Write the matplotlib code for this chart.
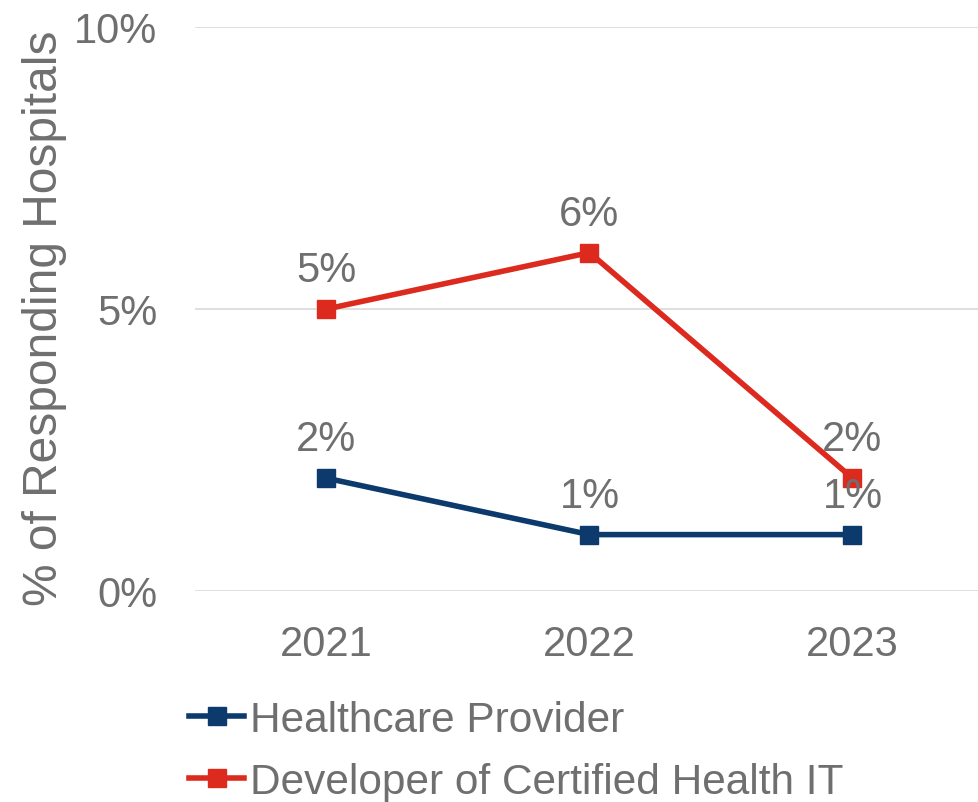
import matplotlib
matplotlib.use("Agg")
import matplotlib.pyplot as plt

years = ["2021", "2022", "2023"]
provider = [2, 1, 1]
developer = [5, 6, 2]
series_names = ["Healthcare Provider", "Developer of Certified Health IT"]
yticks = [0, 5, 10]
ytick_labels = ["0%", "5%", "10%"]

plt.rcParams['font.family'] = ['Liberation Sans', 'DejaVu Sans']
TXT = '#6f6f6f'
BLUE = '#0c3a6c'
RED = '#dc2a1f'

fig = plt.figure(figsize=(9.79, 8.03), dpi=100)
ax = fig.add_axes([195/979, (803-592)/803, 789/979, (592-28)/803])

x = list(range(len(years)))
ax.plot(x, provider, color=BLUE, lw=4.0, marker='s', ms=13, label=series_names[0], zorder=3)
ax.plot(x, developer, color=RED, lw=4.0, marker='s', ms=13, label=series_names[1], zorder=3)

for xi, v in zip(x, provider):
    ax.annotate(f"{v}%", (xi, v), xytext=(0, 28), textcoords='offset points',
                ha='center', va='center', fontsize=30, color=TXT)
for xi, v in zip(x, developer):
    ax.annotate(f"{v}%", (xi, v), xytext=(0, 28), textcoords='offset points',
                ha='center', va='center', fontsize=30, color=TXT)

ax.set_xlim(-0.5, 2.5)
ax.set_ylim(0, 10)
ax.set_yticks(yticks)
ax.set_yticklabels(ytick_labels)
ax.set_xticks(x)
ax.set_xticklabels(years)
ax.tick_params(axis='both', length=0, labelsize=30, labelcolor=TXT)
ax.tick_params(axis='y', pad=27)
ax.tick_params(axis='x', pad=24)
ax.grid(axis='y', color='#d9d9d9', lw=1.2)
ax.set_axisbelow(True)
for s in ax.spines.values():
    s.set_visible(False)

fig.text(45/979, 1-318/803, "% of Responding Hospitals", rotation=90,
         ha='center', va='center', fontsize=34.5, color=TXT)

fig.legend(loc='center left', bbox_to_anchor=(189/979, 1-752/803), frameon=False,
           fontsize=30.5, labelcolor=TXT, handlelength=1.31, handletextpad=0.12,
           labelspacing=0.52, borderaxespad=0, borderpad=0)

fig.savefig("out.png", dpi=100)
